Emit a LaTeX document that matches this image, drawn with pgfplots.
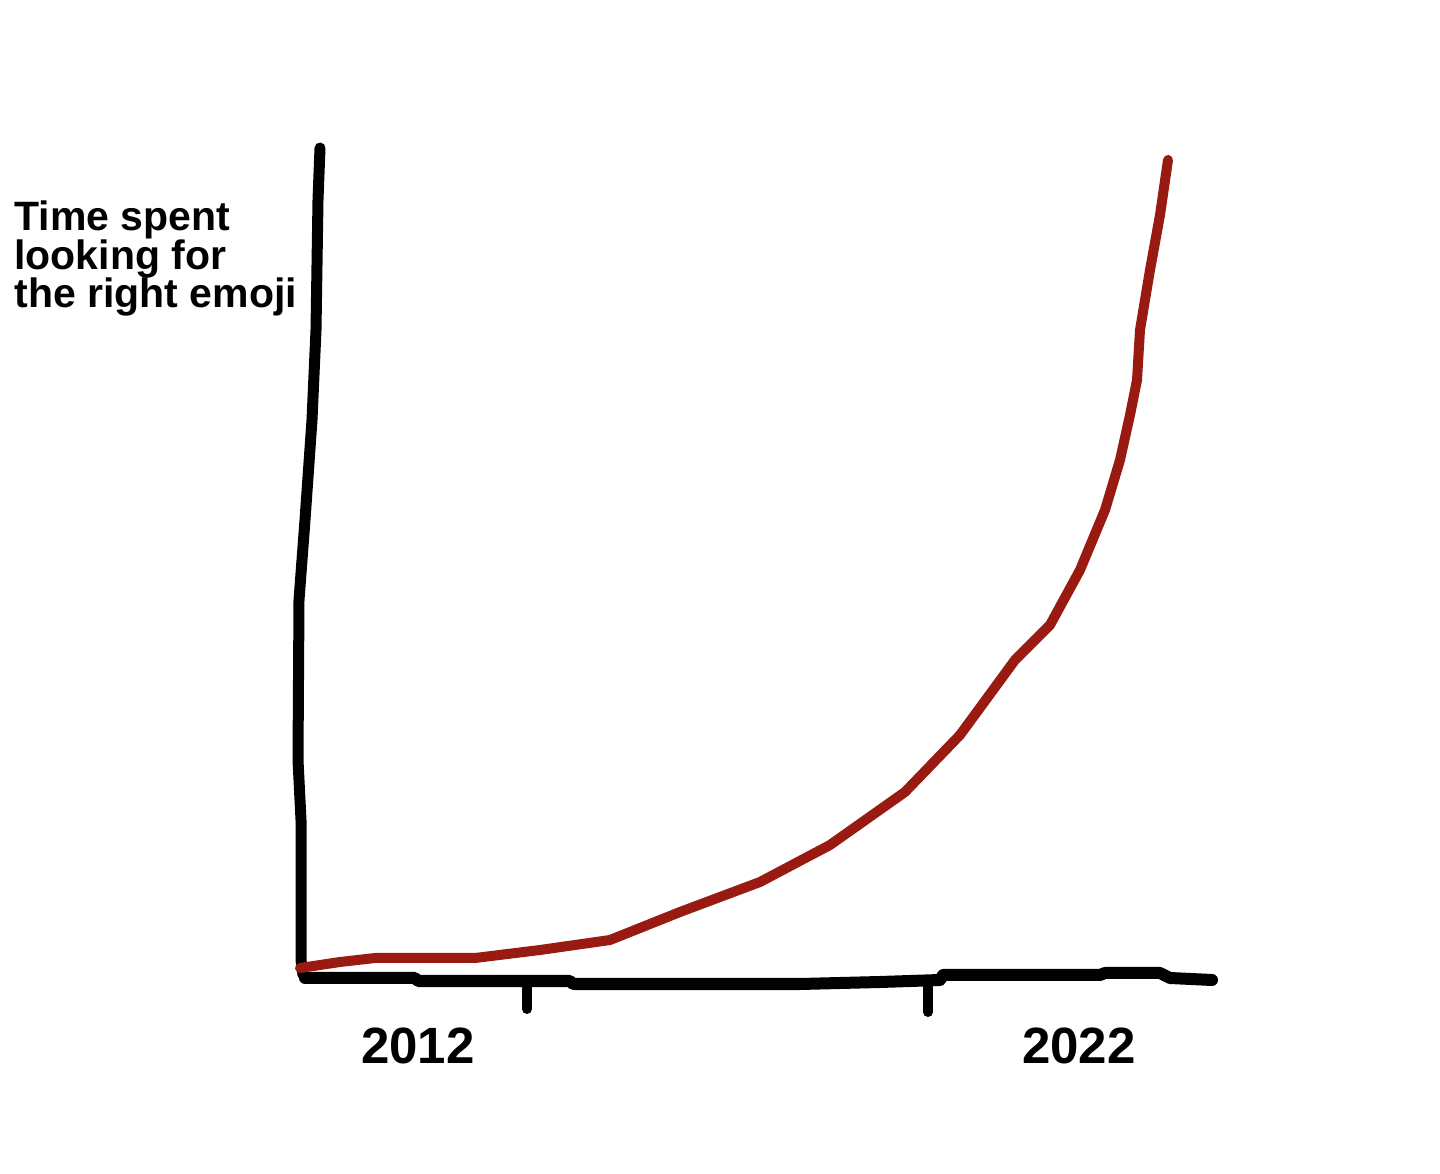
\documentclass[border=0pt]{standalone}
\usepackage{pgfplots}
\pgfplotsset{compat=1.18}
\usepackage{fontspec}
\setmainfont{Liberation Sans}
\definecolor{curvered}{HTML}{981A11}

\begin{document}
\begin{tikzpicture}
\begin{axis}[
    x=0.5pt, y=0.5pt,
    xmin=0, xmax=1440, ymin=0, ymax=1173,
    hide axis, clip=false,
]
% keep page the size of the reference
\addplot[draw=none] coordinates {(0,0) (1440,1173)};
% y axis (hand drawn)
\addplot[black, line width=5.5pt, line cap=round, line join=round] coordinates {
    (320,1025) (318,973) (316,843) (312,753) (305,653) (299,573)
    (298,413) (301,353) (301,213) (303,198)
};
% x axis (hand drawn)
\addplot[black, line width=6pt, line cap=round, line join=round] coordinates {
    (305,195) (415,195) (418,192) (570,192) (573,189) (800,189)
    (880,191) (940,193) (943,198) (1100,198) (1105,200) (1160,200)
    (1170,195) (1212,193)
};
% ticks
\addplot[black, line width=5pt, line cap=round] coordinates {(527,188) (527,164)};
\addplot[black, line width=5pt, line cap=round] coordinates {(928,192) (928,161)};
% curve
\addplot[curvered, line width=5pt, line cap=round, line join=round] coordinates {
    (300,205) (340,211) (375,215) (475,215) (540,223) (610,233) (680,261)
    (760,291) (830,328) (905,381) (960,438) (1015,513) (1050,548)
    (1080,603) (1105,663) (1120,713) (1130,758) (1137,793) (1140,843)
    (1150,903) (1160,958) (1168,1013)
};
\node[anchor=base west, align=left, inner sep=0pt,
      font=\bfseries\fontsize{20.5}{19.3}\selectfont]
    at (axis cs:14,865) {Time spent\\looking for\\the right emoji};
\node[anchor=base, font=\bfseries\fontsize{25.5}{28}\selectfont] at (axis cs:418,110) {2012};
\node[anchor=base, font=\bfseries\fontsize{25.5}{28}\selectfont] at (axis cs:1079,110) {2022};
\end{axis}
\end{tikzpicture}
\end{document}
